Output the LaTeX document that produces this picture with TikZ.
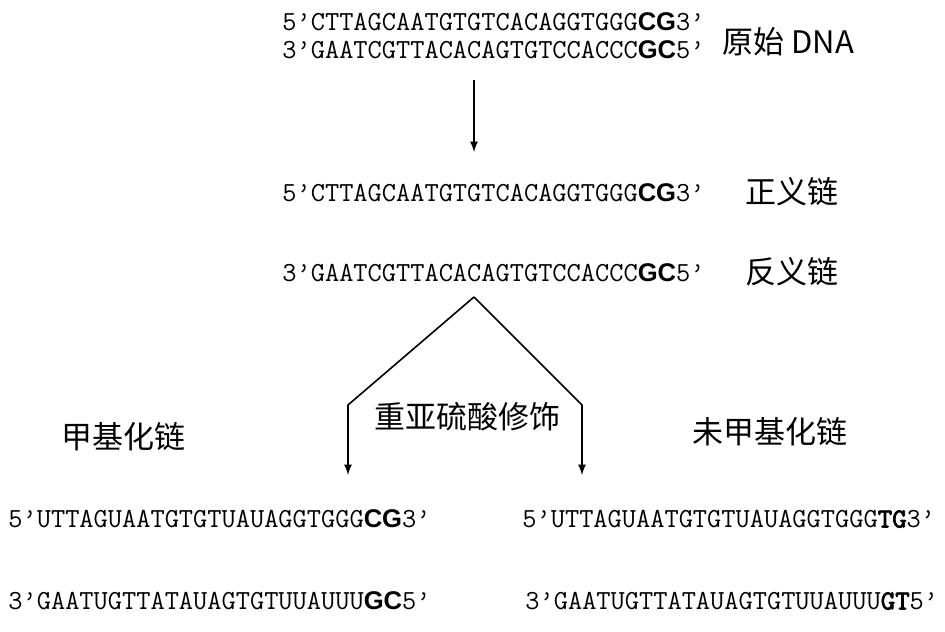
\documentclass[tikz,border=0pt]{standalone}
\usepackage{fontspec}
\usetikzlibrary{arrows}
\newfontfamily\seqsans{Liberation Sans}
\newfontfamily\seqbold{lmmono10-regular.otf}[FakeBold=2.5]
\newfontfamily\cjk{Noto Sans CJK SC}
\newcommand{\hs}[1]{{\seqsans\bfseries\fontsize{12.8pt}{14pt}\selectfont #1}}
\newcommand{\hm}[1]{{\seqbold #1}}
\tikzset{
  seq/.style={anchor=west,inner sep=0pt,font=\ttfamily\fontsize{13.8pt}{16pt}\selectfont},
  lab/.style={inner sep=0pt,font=\cjk\fontsize{15.5pt}{18pt}\selectfont},
  flow/.style={line width=0.8pt,-latex}
}
\begin{document}
\begin{tikzpicture}[x=0.5pt,y=-0.5pt]
  \useasboundingbox (0,0) rectangle (945,631);
  \node[seq] (ds5) at (282,22) {5’CTTAGCAATGTGTCACAGGTGGG\hs{CG}3’};
  \node[seq] (ds3) at (282,50) {3’GAATCGTTACACAGTGTCCACCC\hs{GC}5’};
  \node[lab,anchor=west] (dna) at (722,42) {原始 DNA};

  \node[seq] (sense) at (282,193) {5’CTTAGCAATGTGTCACAGGTGGG\hs{CG}3’};
  \node[lab,anchor=west] (senselab) at (745,192) {正义链};
  \node[seq] (anti) at (282,273) {3’GAATCGTTACACAGTGTCCACCC\hs{GC}5’};
  \node[lab,anchor=west] (antilab) at (745,272) {反义链};

  \node[lab] (bis) at (467,417) {重亚硫酸修饰};
  \node[lab] (methlab) at (123,437) {甲基化链};
  \node[lab] (unmethlab) at (770,432) {未甲基化链};

  \node[seq] (m5) at (8,519) {5’UTTAGUAATGTGTUAUAGGTGGG\hs{CG}3’};
  \node[seq] (m3) at (8,601) {3’GAATUGTTATAUAGTGTUUAUUU\hs{GC}5’};
  \node[seq] (u5) at (522,519) {5’UTTAGUAATGTGTUAUAGGTGGG\hm{TG}3’};
  \node[seq] (u3) at (525,601) {3’GAATUGTTATAUAGTGTUUAUUU\hm{GT}5’};

  \coordinate (split) at (474,80);
  \coordinate (join) at (474,152);
  \coordinate (peak) at (474,297);
  \coordinate (lcorner) at (348,405);
  \coordinate (rcorner) at (582,405);
  \coordinate (lend) at (348,475);
  \coordinate (rend) at (582,475);

  \draw[flow] (split) -- (join);
  \draw[flow] (peak) -- (lcorner) -- (lend);
  \draw[flow] (peak) -- (rcorner) -- (rend);
\end{tikzpicture}
\end{document}
